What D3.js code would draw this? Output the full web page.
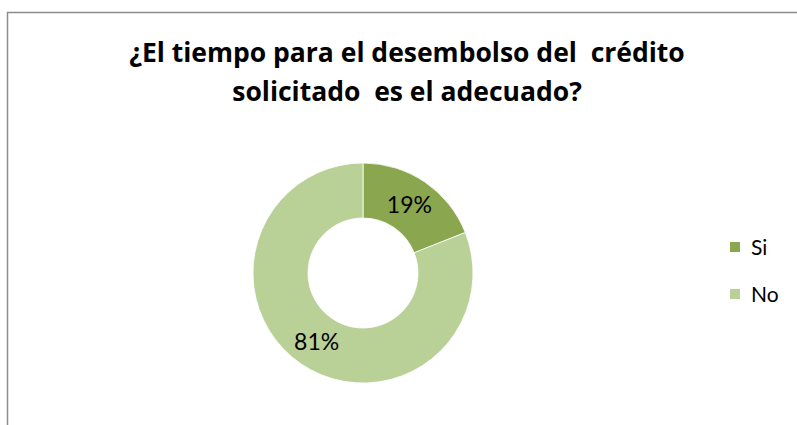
<!DOCTYPE html>
<html>
<head>
<meta charset="utf-8">
<script src="https://cdn.jsdelivr.net/npm/d3@7"></script>
<style>
  html, body { margin: 0; padding: 0; background: #fff; }
  svg { display: block; }
</style>
</head>
<body>
<svg id="chart" width="797" height="425"></svg>
<script>
// Survey answers and their shares (percent)
const categories = ["Si", "No"];
const values = [19, 81];
const colors = ["#8AA64F", "#B9D097"];
const titleLines = ["¿El tiempo para el desembolso del  crédito", "solicitado  es el adecuado?"];

const svg = d3.select("#chart");
const W = 797, H = 425;
const font = "Lato, 'Open Sans', sans-serif";
const titleFont = "'Open Sans', Lato, sans-serif";

// Chart area frame (right and bottom edges run past the window)
svg.append("rect")
  .attr("x", 7.5).attr("y", 12.5)
  .attr("width", W).attr("height", H)
  .attr("fill", "#fff")
  .attr("stroke", "#8c8c8c")
  .attr("stroke-width", 1.5);

// Title
const title = svg.append("text")
  .attr("text-anchor", "middle")
  .attr("font-family", titleFont)
  .attr("font-weight", "bold")
  .attr("font-size", 26.5)
  .attr("fill", "#000")
  .style("white-space", "pre");
title.selectAll("tspan")
  .data(titleLines)
  .join("tspan")
  .attr("x", 407)
  .attr("y", (d, i) => 62 + i * 39)
  .text(d => d);

// Donut
const cx = 363, cy = 273, rOuter = 110, rInner = 55;
const color = d3.scaleOrdinal().domain(categories).range(colors);
const pie = d3.pie().sort(null).value(d => d.value);
const arc = d3.arc().innerRadius(rInner).outerRadius(rOuter);
const data = categories.map((c, i) => ({ cat: c, value: values[i] }));
const arcs = pie(data);

const g = svg.append("g").attr("transform", `translate(${cx},${cy})`);
g.selectAll("path")
  .data(arcs)
  .join("path")
  .attr("d", arc)
  .attr("fill", d => color(d.data.cat))
  .attr("stroke", "#fff")
  .attr("stroke-width", 0.8);

g.selectAll("text.lbl")
  .data(arcs)
  .join("text")
  .attr("class", "lbl")
  .attr("transform", d => `translate(${arc.centroid(d)})`)
  .attr("text-anchor", "middle")
  .attr("dy", "0.36em")
  .attr("font-family", font)
  .attr("font-size", 23)
  .attr("fill", "#000")
  .text(d => d.data.value + "%");

// Legend
const legend = svg.append("g");
const items = legend.selectAll("g")
  .data(categories)
  .join("g")
  .attr("transform", (d, i) => `translate(730,${242 + i * 47})`);
items.append("rect")
  .attr("width", 10).attr("height", 10)
  .attr("fill", d => color(d));
items.append("text")
  .attr("x", 21).attr("y", 5)
  .attr("dy", "0.36em")
  .attr("font-family", font)
  .attr("font-size", 21)
  .attr("fill", "#000")
  .text(d => d);
</script>
</body>
</html>
